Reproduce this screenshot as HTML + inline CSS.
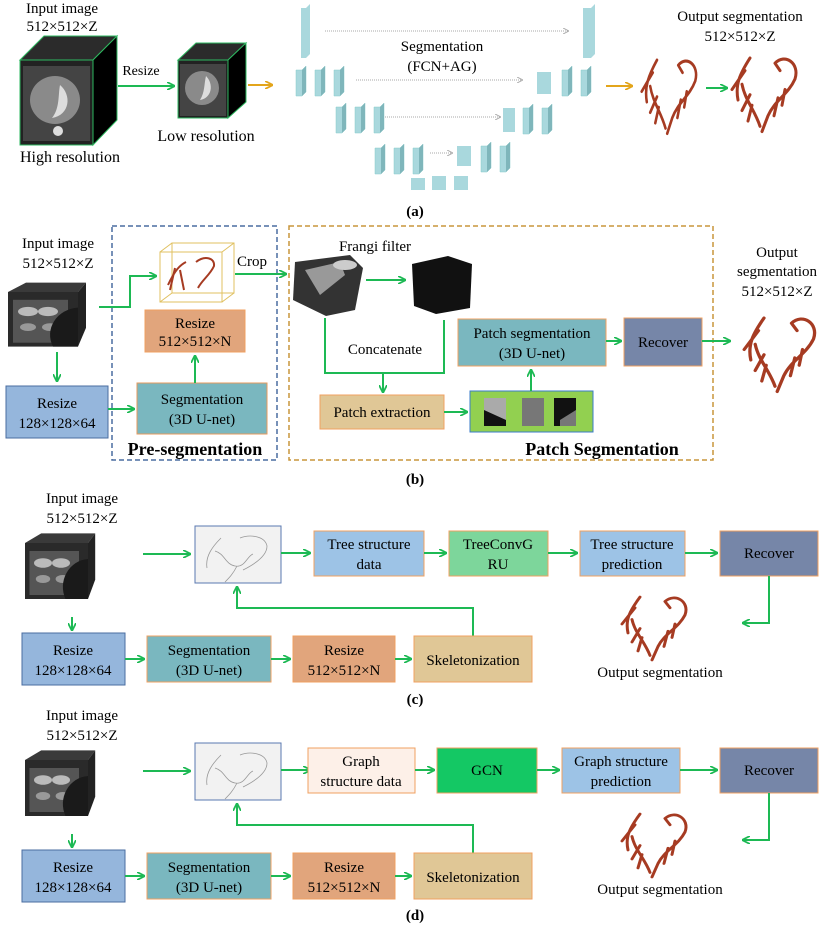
<!DOCTYPE html>
<html><head><meta charset="utf-8"><style>
body{margin:0;background:#fff}
svg{display:block}
text{font-family:"Liberation Serif",serif;fill:#000}
</style></head><body>
<svg width="830" height="928" viewBox="0 0 830 928" xmlns="http://www.w3.org/2000/svg">
<defs>
<marker id="g" markerWidth="8" markerHeight="8" refX="7" refY="4" orient="auto" markerUnits="userSpaceOnUse"><path d="M0,0 L8,4 L0,8" fill="none" stroke="#1db954" stroke-width="1.8"/></marker>
<marker id="o" markerWidth="8" markerHeight="8" refX="7" refY="4" orient="auto" markerUnits="userSpaceOnUse"><path d="M0,0 L8,4 L0,8" fill="none" stroke="#e3a51b" stroke-width="1.8"/></marker>
<marker id="s" markerWidth="6" markerHeight="6" refX="5" refY="3" orient="auto" markerUnits="userSpaceOnUse"><path d="M0,0 L6,3 L0,6" fill="none" stroke="#aaa" stroke-width="1"/></marker>
<g id="ucube"><path d="M0,0 h6 l4,-4 v26 l-4,4 h-6z" fill="#a9d8dd" stroke="#8cc" stroke-width="0.5"/><path d="M6,0 l4,-4 v26 l-4,4z" fill="#7fb6bb"/></g>
<g id="ct"><rect x="0" y="0" width="70" height="70" fill="#2a2a2a"/><rect x="5" y="10" width="55" height="55" fill="#555"/><ellipse cx="20" cy="25" rx="10" ry="6" fill="#bbb"/><ellipse cx="40" cy="25" rx="10" ry="6" fill="#bbb"/><ellipse cx="20" cy="45" rx="8" ry="5" fill="#999"/><ellipse cx="42" cy="45" rx="8" ry="5" fill="#999"/><path d="M45,70 A30,35 0 0 1 70,20 V70z" fill="#1a1a1a"/><path d="M0,0 l18,-12 h60 l-8,12z" fill="#3a3a3a"/><path d="M70,0 l8,-12 v58 l-8,24z" fill="#222"/></g>
<g id="skel"><rect x="0" y="0" width="86" height="57" fill="#f2f2f2" stroke="#5a78b0" stroke-width="1"/><path d="M12,42 C10,30 18,20 26,12 M20,25 C30,28 30,38 40,40 C50,42 52,30 58,28 M45,12 C55,8 70,10 72,20 C72,30 60,38 48,44 M42,40 C38,48 34,52 30,56" fill="none" stroke="#999" stroke-width="0.8"/></g>
<g id="heart" fill="none" stroke="#a63b22" stroke-width="3" stroke-linecap="round"><path d="M20,0 C10,15 5,25 8,40 M15,12 L2,30 M12,25 C15,40 25,50 30,65 M20,35 L12,50 M22,45 L18,60"/><path d="M45,5 C55,-5 70,5 65,20 C58,35 45,40 38,55 L32,70 M55,30 L52,45 M48,38 L44,55 M45,5 L50,12"/></g>
</defs>

<!-- ===== (a) ===== -->
<text x="62" y="13" font-size="15" text-anchor="middle">Input image</text>
<text x="62" y="31" font-size="15" text-anchor="middle">512×512×Z</text>
<path d="M20,60 L44,36 H117 L93,60Z" fill="#2b2b2b" stroke="#2eb860"/>
<path d="M93,60 L117,36 V120 L93,145Z" fill="#000" stroke="#2eb860"/>
<rect x="20" y="60" width="73" height="85" fill="#222" stroke="#2eb860"/>
<rect x="23" y="66" width="67" height="75" fill="#444"/>
<ellipse cx="55" cy="100" rx="25" ry="24" fill="#8a8a8a"/><path d="M60,85 C72,95 70,115 52,118 C60,108 58,95 60,85z" fill="#ddd"/><circle cx="58" cy="131" r="5" fill="#ddd"/>
<text x="70" y="162" font-size="16" text-anchor="middle">High resolution</text>
<text x="141" y="75" font-size="14" text-anchor="middle">Resize</text>
<line x1="118" y1="86" x2="174" y2="86" stroke="#1db954" stroke-width="2" marker-end="url(#g)"/>
<path d="M178,60 L196,43 H246 L228,60Z" fill="#2b2b2b" stroke="#2eb860"/>
<path d="M228,60 L246,43 V102 L228,118Z" fill="#000" stroke="#2eb860"/>
<rect x="178" y="60" width="50" height="58" fill="#222" stroke="#2eb860"/>
<rect x="180" y="64" width="46" height="52" fill="#444"/>
<ellipse cx="202" cy="88" rx="17" ry="17" fill="#8a8a8a"/><path d="M206,76 C214,84 212,98 200,100 C205,92 204,84 206,76z" fill="#ddd"/>
<text x="206" y="141" font-size="16" text-anchor="middle">Low resolution</text>
<line x1="248" y1="85" x2="272" y2="85" stroke="#e3a51b" stroke-width="2" marker-end="url(#o)"/>
<g>
<path d="M301,8 h5 l4,-4 v50 l-4,4 h-5z" fill="#a9d8dd"/>
<path d="M583,8 h8 l4,-4 v50 l-4,4 h-8z" fill="#a9d8dd"/>
<use href="#ucube" x="296" y="70"/><use href="#ucube" x="315" y="70"/><use href="#ucube" x="334" y="70"/>
<use href="#ucube" x="336" y="107"/><use href="#ucube" x="355" y="107"/><use href="#ucube" x="374" y="107"/>
<use href="#ucube" x="375" y="148"/><use href="#ucube" x="394" y="148"/><use href="#ucube" x="413" y="148"/>
<rect x="411" y="178" width="14" height="12" fill="#a9d8dd"/><rect x="432" y="176" width="14" height="14" fill="#a9d8dd"/><rect x="454" y="176" width="14" height="14" fill="#a9d8dd"/>
<rect x="457" y="146" width="14" height="20" fill="#a9d8dd"/><use href="#ucube" x="481" y="146"/><use href="#ucube" x="500" y="146"/>
<rect x="503" y="108" width="12" height="24" fill="#a9d8dd"/><use href="#ucube" x="523" y="108"/><use href="#ucube" x="542" y="108"/>
<rect x="537" y="72" width="14" height="22" fill="#a9d8dd"/><use href="#ucube" x="562" y="70"/><use href="#ucube" x="581" y="70"/>
<line x1="325" y1="31" x2="568" y2="31" stroke="#aaa" stroke-dasharray="1,1" marker-end="url(#s)"/>
<line x1="356" y1="80" x2="522" y2="80" stroke="#aaa" stroke-dasharray="1,1" marker-end="url(#s)"/>
<line x1="385" y1="117" x2="500" y2="117" stroke="#aaa" stroke-dasharray="1,1" marker-end="url(#s)"/>
<line x1="430" y1="153" x2="452" y2="153" stroke="#aaa" stroke-dasharray="1,1" marker-end="url(#s)"/>
</g>
<text x="442" y="51" font-size="15" text-anchor="middle">Segmentation</text>
<text x="442" y="71" font-size="15" text-anchor="middle">(FCN+AG)</text>
<line x1="606" y1="86" x2="632" y2="86" stroke="#e3a51b" stroke-width="2" marker-end="url(#o)"/>
<text x="740" y="21" font-size="15" text-anchor="middle">Output segmentation</text>
<text x="740" y="41" font-size="15" text-anchor="middle">512×512×Z</text>
<use href="#heart" transform="translate(640,60) scale(0.85,1.05)"/>
<line x1="706" y1="88" x2="727" y2="88" stroke="#1db954" stroke-width="2" marker-end="url(#g)"/>
<use href="#heart" transform="translate(730,58) scale(1,1.05)"/>
<text x="415" y="216" font-size="15" font-weight="bold" text-anchor="middle">(a)</text>

<!-- ===== (b) ===== -->
<rect x="112" y="226" width="165" height="234" fill="none" stroke="#4a6da0" stroke-width="1.5" stroke-dasharray="5,3"/>
<rect x="289" y="226" width="424" height="234" fill="none" stroke="#c8963c" stroke-width="1.5" stroke-dasharray="5,3"/>
<text x="58" y="248" font-size="15" text-anchor="middle">Input image</text>
<text x="58" y="268" font-size="15" text-anchor="middle">512×512×Z</text>
<use href="#ct" transform="translate(8,292) scale(1.0,0.78)"/>
<line x1="57" y1="352" x2="57" y2="381" stroke="#1db954" stroke-width="2" marker-end="url(#g)"/>
<rect x="6" y="386" width="102" height="52" fill="#95b6dc" stroke="#4a6da0"/>
<text x="57" y="408" font-size="15" text-anchor="middle">Resize</text>
<text x="57" y="428" font-size="15" text-anchor="middle">128×128×64</text>
<line x1="108" y1="409" x2="134" y2="409" stroke="#1db954" stroke-width="2" marker-end="url(#g)"/>
<rect x="137" y="383" width="130" height="51" fill="#7ab7bf" stroke="#e59a5e"/>
<text x="202" y="404" font-size="15" text-anchor="middle">Segmentation</text>
<text x="202" y="424" font-size="15" text-anchor="middle">(3D U-net)</text>
<line x1="195" y1="383" x2="195" y2="356" stroke="#1db954" stroke-width="2" marker-end="url(#g)"/>
<rect x="145" y="310" width="100" height="42" fill="#e1a57c" stroke="#f0a060"/>
<text x="195" y="328" font-size="15" text-anchor="middle">Resize</text>
<text x="195" y="346" font-size="15" text-anchor="middle">512×512×N</text>
<path d="M99,307 H130 V276 H156" fill="none" stroke="#1db954" stroke-width="2" marker-end="url(#g)"/>
<g fill="none" stroke="#e0c060" stroke-width="1"><rect x="160" y="252" width="62" height="50"/><rect x="172" y="243" width="62" height="50"/><line x1="160" y1="252" x2="172" y2="243"/><line x1="222" y1="252" x2="234" y2="243"/><line x1="160" y1="302" x2="172" y2="293"/><line x1="222" y1="302" x2="234" y2="293"/></g>
<path d="M168,285 C175,270 180,265 186,262 M175,268 L170,290 M180,270 L184,290 M196,262 C205,255 215,258 214,266 C210,275 202,280 198,288" fill="none" stroke="#a63b22" stroke-width="2"/>
<text x="252" y="266" font-size="15" text-anchor="middle">Crop</text>
<line x1="235" y1="274" x2="286" y2="274" stroke="#1db954" stroke-width="2" marker-end="url(#g)"/>
<text x="375" y="251" font-size="15" text-anchor="middle">Frangi filter</text>
<path d="M295,262 L350,255 L363,268 L355,310 L326,316 L293,300Z" fill="#333"/>
<path d="M305,270 L340,262 L345,275 L320,295Z" fill="#999"/><ellipse cx="345" cy="265" rx="12" ry="5" fill="#ccc"/>
<line x1="366" y1="280" x2="405" y2="280" stroke="#1db954" stroke-width="2" marker-end="url(#g)"/>
<path d="M412,264 L448,256 L472,264 L470,308 L436,314 L414,306Z" fill="#111"/>
<path d="M325,318 V373 H444 V320" fill="none" stroke="#1db954" stroke-width="2"/>
<line x1="383" y1="373" x2="383" y2="392" stroke="#1db954" stroke-width="2" marker-end="url(#g)"/>
<text x="385" y="354" font-size="15" text-anchor="middle">Concatenate</text>
<rect x="320" y="395" width="124" height="34" fill="#e0c796" stroke="#f0a060"/>
<text x="382" y="417" font-size="15" text-anchor="middle">Patch extraction</text>
<line x1="444" y1="412" x2="467" y2="412" stroke="#1db954" stroke-width="2" marker-end="url(#g)"/>
<rect x="470" y="391" width="123" height="41" fill="#92d050" stroke="#3a7bc8"/>
<rect x="484" y="398" width="22" height="28" fill="#aaa"/><path d="M484,410 L506,420 V426 H484Z" fill="#111"/>
<rect x="522" y="398" width="22" height="28" fill="#777"/>
<rect x="554" y="398" width="22" height="28" fill="#111"/><path d="M560,420 L576,410 V426 H560Z" fill="#777"/>
<line x1="531" y1="391" x2="531" y2="370" stroke="#1db954" stroke-width="2" marker-end="url(#g)"/>
<rect x="458" y="319" width="148" height="47" fill="#7ab7bf" stroke="#f0a060"/>
<text x="532" y="338" font-size="15" text-anchor="middle">Patch segmentation</text>
<text x="532" y="358" font-size="15" text-anchor="middle">(3D U-net)</text>
<line x1="606" y1="341" x2="621" y2="341" stroke="#1db954" stroke-width="2" marker-end="url(#g)"/>
<rect x="624" y="318" width="78" height="48" fill="#7686a8" stroke="#f0a060"/>
<text x="663" y="347" font-size="15" text-anchor="middle">Recover</text>
<line x1="702" y1="341" x2="730" y2="341" stroke="#1db954" stroke-width="2" marker-end="url(#g)"/>
<text x="777" y="257" font-size="15" text-anchor="middle">Output</text>
<text x="777" y="276" font-size="15" text-anchor="middle">segmentation</text>
<text x="777" y="296" font-size="15" text-anchor="middle">512×512×Z</text>
<use href="#heart" transform="translate(742,318) scale(1.1,1.05)"/>
<text x="195" y="455" font-size="18" font-weight="bold" text-anchor="middle">Pre-segmentation</text>
<text x="602" y="455" font-size="18" font-weight="bold" text-anchor="middle">Patch Segmentation</text>
<text x="415" y="484" font-size="15" font-weight="bold" text-anchor="middle">(b)</text>

<!-- ===== (c) & (d) ===== -->
<g id="pc">
<text x="82" y="503" font-size="15" text-anchor="middle">Input image</text>
<text x="82" y="523" font-size="15" text-anchor="middle">512×512×Z</text>
<use href="#ct" transform="translate(25,543) scale(0.9,0.8)"/>
<line x1="72" y1="617" x2="72" y2="630" stroke="#1db954" stroke-width="2" marker-end="url(#g)"/>
<line x1="143" y1="554" x2="190" y2="554" stroke="#1db954" stroke-width="2" marker-end="url(#g)"/>
<use href="#skel" x="195" y="526"/>
<line x1="281" y1="553" x2="310" y2="553" stroke="#1db954" stroke-width="2" marker-end="url(#g)"/>
<path d="M473,636 V608 H237 V587" fill="none" stroke="#1db954" stroke-width="2" marker-end="url(#g)"/>
<rect x="22" y="633" width="103" height="52" fill="#95b6dc" stroke="#4a6da0"/>
<text x="73" y="655" font-size="15" text-anchor="middle">Resize</text>
<text x="73" y="675" font-size="15" text-anchor="middle">128×128×64</text>
<line x1="125" y1="659" x2="144" y2="659" stroke="#1db954" stroke-width="2" marker-end="url(#g)"/>
<rect x="147" y="636" width="124" height="46" fill="#7ab7bf" stroke="#f0a060"/>
<text x="209" y="655" font-size="15" text-anchor="middle">Segmentation</text>
<text x="209" y="675" font-size="15" text-anchor="middle">(3D U-net)</text>
<line x1="271" y1="659" x2="290" y2="659" stroke="#1db954" stroke-width="2" marker-end="url(#g)"/>
<rect x="293" y="636" width="102" height="46" fill="#e1a57c" stroke="#f0a060"/>
<text x="344" y="655" font-size="15" text-anchor="middle">Resize</text>
<text x="344" y="675" font-size="15" text-anchor="middle">512×512×N</text>
<line x1="395" y1="659" x2="411" y2="659" stroke="#1db954" stroke-width="2" marker-end="url(#g)"/>
<rect x="414" y="636" width="118" height="46" fill="#e0c796" stroke="#f0a060"/>
<text x="473" y="665" font-size="15" text-anchor="middle">Skeletonization</text>
<rect x="720" y="531" width="98" height="45" fill="#7686a8" stroke="#f0a060"/>
<text x="769" y="558" font-size="15" text-anchor="middle">Recover</text>
<path d="M769,576 V623 H743" fill="none" stroke="#1db954" stroke-width="2" marker-end="url(#g)"/>
<use href="#heart" transform="translate(620,597) scale(1,0.9)"/>
<text x="660" y="677" font-size="15" text-anchor="middle">Output segmentation</text>
</g>
<rect x="314" y="531" width="110" height="45" fill="#9dc3e6" stroke="#f0a060"/>
<text x="369" y="549" font-size="15" text-anchor="middle">Tree structure</text>
<text x="369" y="569" font-size="15" text-anchor="middle">data</text>
<line x1="424" y1="553" x2="446" y2="553" stroke="#1db954" stroke-width="2" marker-end="url(#g)"/>
<rect x="449" y="531" width="99" height="45" fill="#7dd69b" stroke="#f0a060"/>
<text x="498" y="549" font-size="15" text-anchor="middle">TreeConvG</text>
<text x="498" y="569" font-size="15" text-anchor="middle">RU</text>
<line x1="548" y1="553" x2="577" y2="553" stroke="#1db954" stroke-width="2" marker-end="url(#g)"/>
<rect x="580" y="531" width="105" height="45" fill="#9dc3e6" stroke="#f0a060"/>
<text x="632" y="549" font-size="15" text-anchor="middle">Tree structure</text>
<text x="632" y="569" font-size="15" text-anchor="middle">prediction</text>
<line x1="685" y1="553" x2="717" y2="553" stroke="#1db954" stroke-width="2" marker-end="url(#g)"/>
<text x="415" y="704" font-size="15" font-weight="bold" text-anchor="middle">(c)</text>

<use href="#pc" y="217"/>
<rect x="308" y="748" width="107" height="45" fill="#fdf0e8" stroke="#f0a060"/>
<text x="361" y="766" font-size="15" text-anchor="middle">Graph</text>
<text x="361" y="786" font-size="15" text-anchor="middle">structure data</text>
<line x1="415" y1="770" x2="434" y2="770" stroke="#1db954" stroke-width="2" marker-end="url(#g)"/>
<rect x="437" y="748" width="100" height="45" fill="#14c864" stroke="#f0a060"/>
<text x="487" y="775" font-size="15" text-anchor="middle">GCN</text>
<line x1="537" y1="770" x2="559" y2="770" stroke="#1db954" stroke-width="2" marker-end="url(#g)"/>
<rect x="562" y="748" width="118" height="45" fill="#9dc3e6" stroke="#f0a060"/>
<text x="621" y="766" font-size="15" text-anchor="middle">Graph structure</text>
<text x="621" y="786" font-size="15" text-anchor="middle">prediction</text>
<line x1="680" y1="770" x2="717" y2="770" stroke="#1db954" stroke-width="2" marker-end="url(#g)"/>
<text x="415" y="920" font-size="15" font-weight="bold" text-anchor="middle">(d)</text>
</svg>
</body></html>
